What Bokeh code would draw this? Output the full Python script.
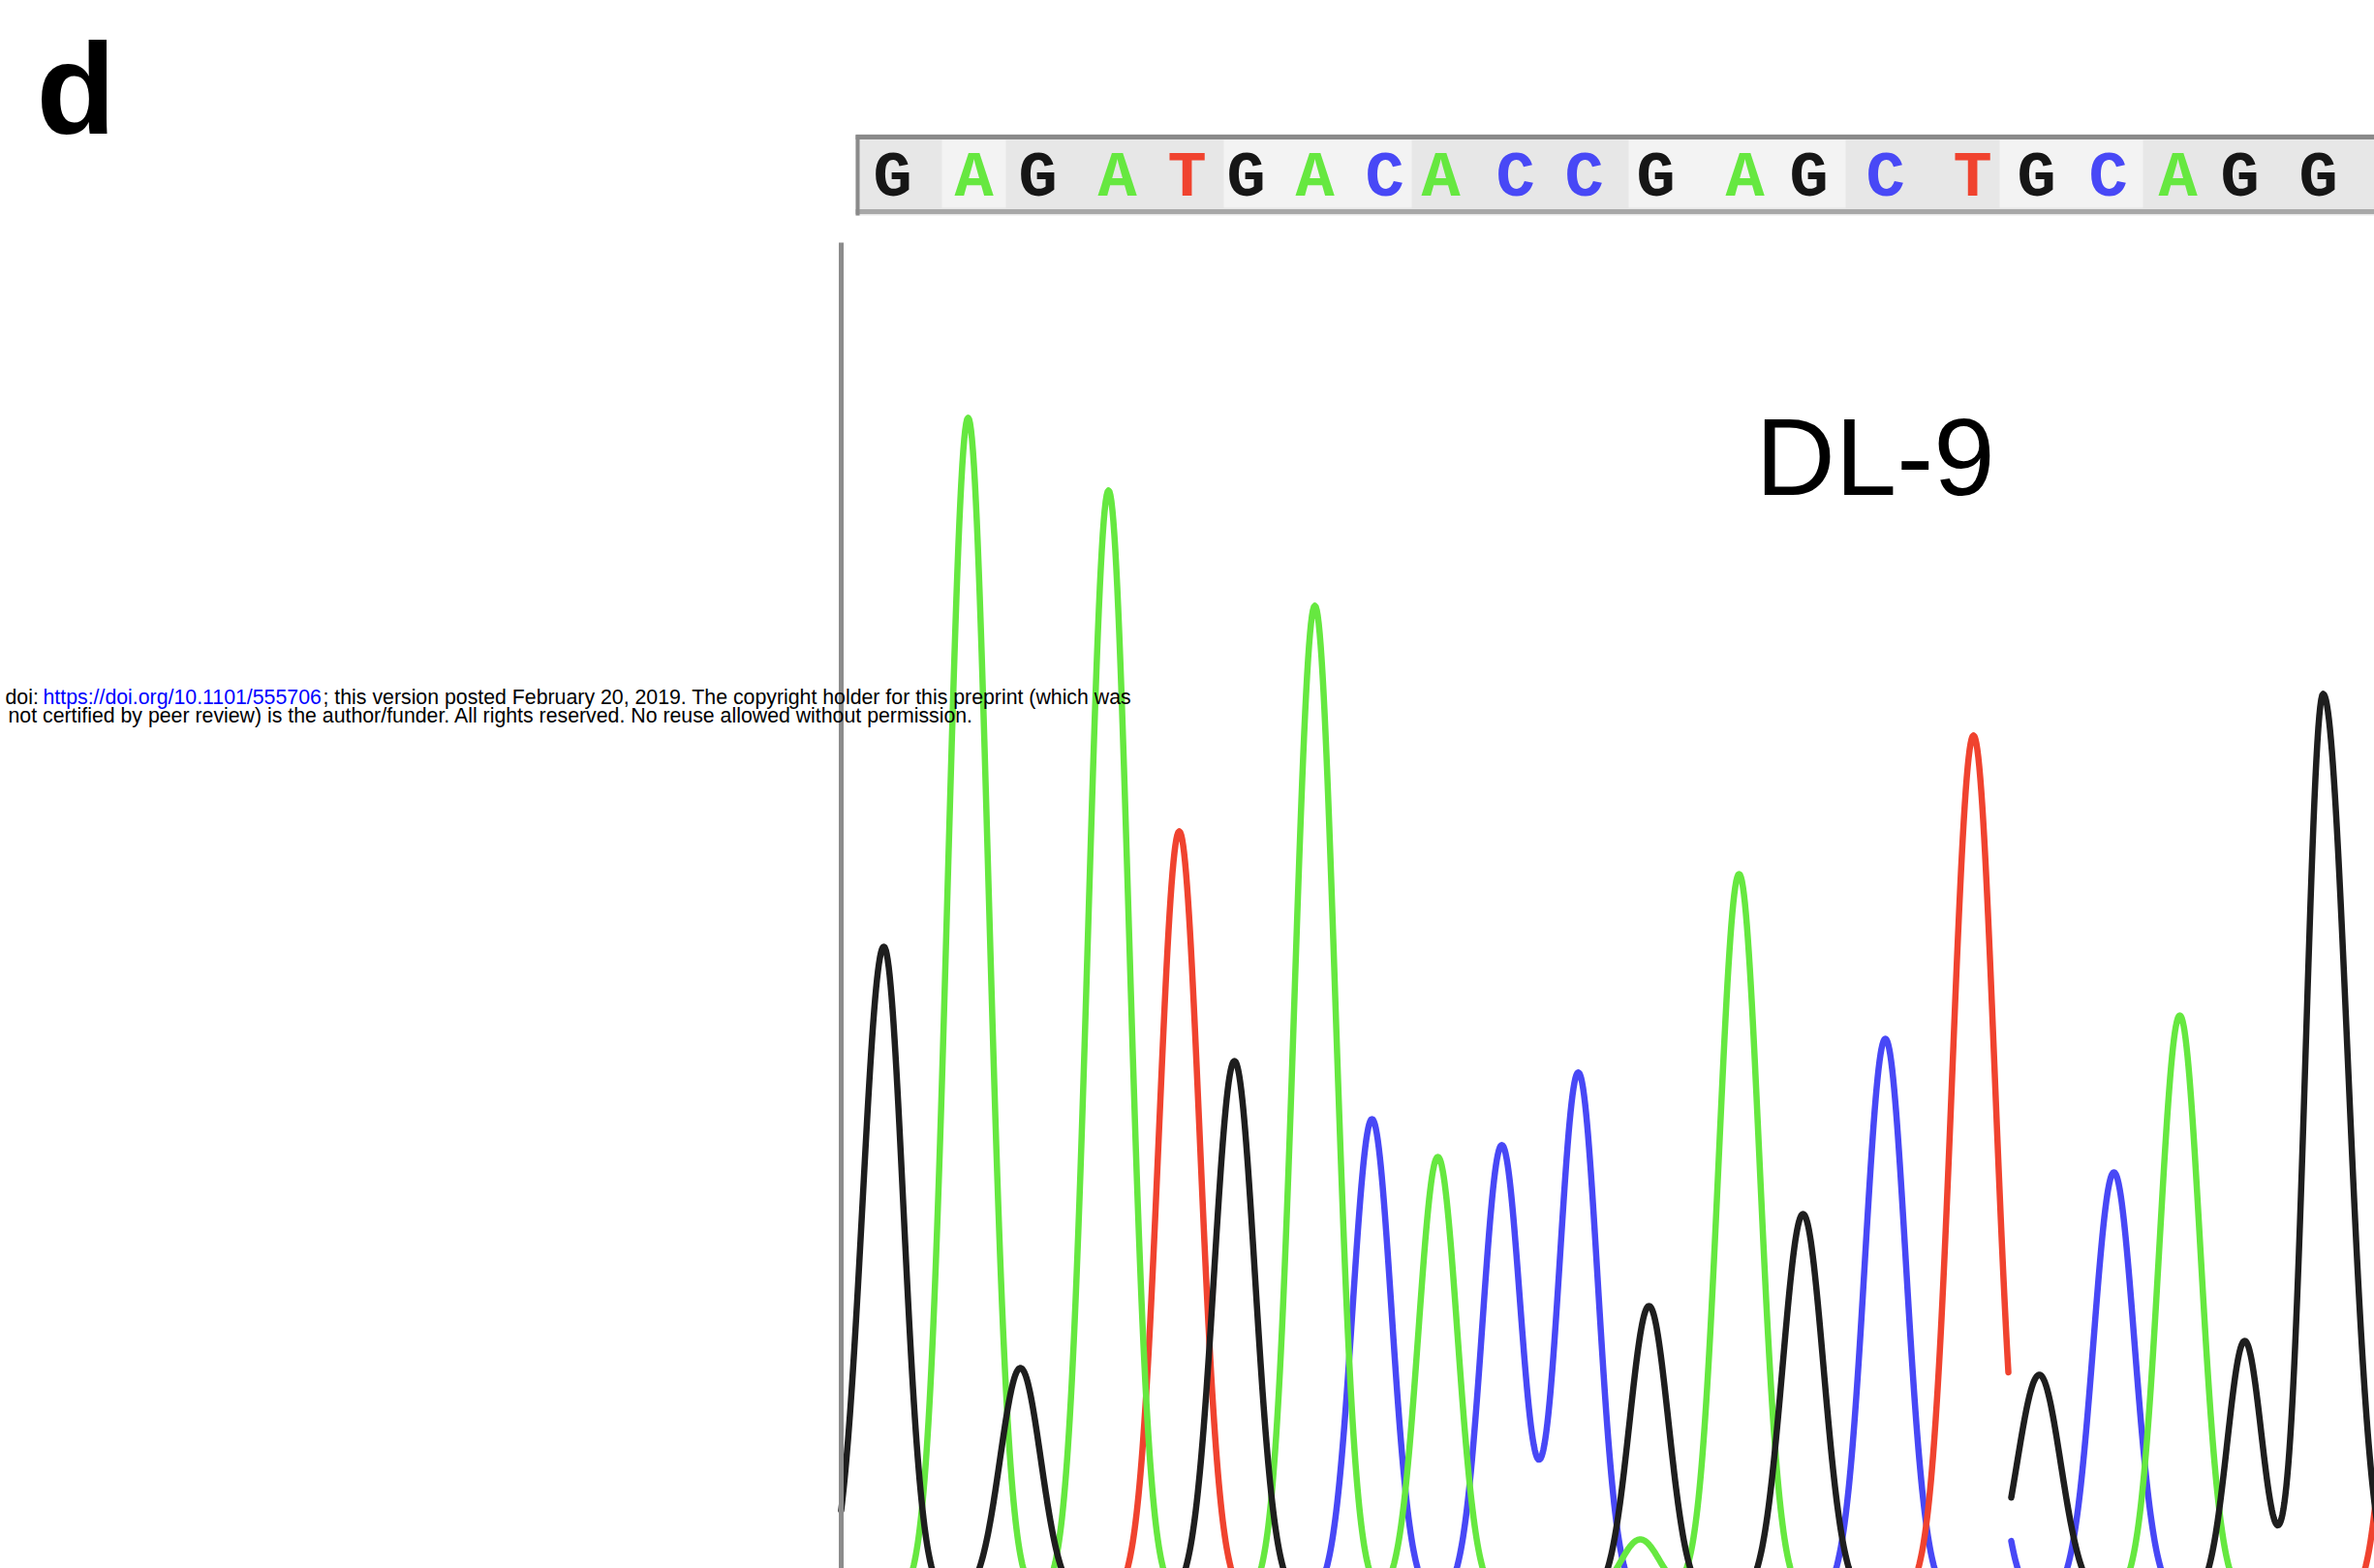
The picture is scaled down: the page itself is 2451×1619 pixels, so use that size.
import numpy as np
from bokeh.plotting import figure
from bokeh.models import Range1d, ColumnDataSource
from bokeh.core.properties import value
from bokeh.embed import file_html
from bokeh.resources import INLINE

# ---------------- data (scan position, signal intensity) ----------------
# base calls shown in the sequence bar and their scan positions
bases = list("GAGATGACACCGAGCTGCAGG")
base_pos = [53, 137, 203, 285, 357, 418, 489, 561, 619, 696, 767,
            841, 933, 999, 1078, 1168, 1234, 1308, 1380, 1444, 1525]

# first read segment (before the splice): peak position, height, left/right width
g_black_pos = [44, 185, 406, 834, 993]
g_black_hgt = [673, 238, 555, 302, 397]
g_black_sgl = [22, 21, 21, 20, 21]
g_black_sgr = [20, 21, 21, 20, 21]

g_green_pos = [131, 276, 489, 616, 825, 927]
g_green_hgt = [1219, 1144, 1025, 456, 61, 748]
g_green_sgl = [21, 21, 21, 20, 21, 21]
g_green_sgr = [21, 21, 21, 20, 21, 21]

g_red_pos = [349, 1169]
g_red_hgt = [792, 891]
g_red_sgl = [21, 22]
g_red_sgr = [21, 22]

g_blue_pos = [548, 682, 761, 1078]
g_blue_hgt = [495, 468, 543, 578]
g_blue_sgl = [20, 20, 20, 21]
g_blue_sgr = [20, 20, 20, 21]

# second read segment (after the splice)
h_black_pos = [1237, 1449, 1530]
h_black_hgt = [231, 266, 934]
h_black_sgl = [23, 18, 18]
h_black_sgr = [22, 18, 25]

h_blue_pos = [1172, 1314]
h_blue_hgt = [300, 440]
h_blue_sgl = [20, 21]
h_blue_sgr = [20, 21]

h_green_pos = [1382]
h_green_hgt = [602]
h_green_sgl = [21]
h_green_sgr = [21]

h_red_pos = [1622]
h_red_hgt = [600]
h_red_sgl = [20]
h_red_sgr = [20]

seg1 = (0, 1205)
seg2 = (1208, 1590)

# ---------------- styles ----------------
C_BLACK = "#1e1e1e"
C_GREEN = "#66e840"
C_RED = "#f0432f"
C_BLUE = "#4848f6"
base_colors = {"G": "#161616", "A": C_GREEN, "T": C_RED, "C": C_BLUE}

p = figure(width=2451, height=1619,
           x_range=Range1d(-868, 1583), y_range=Range1d(31, 1650),
           output_backend="svg", toolbar_location=None,
           x_axis_type=None, y_axis_type=None, min_border=0)
p.grid.visible = False
p.outline_line_color = None
p.background_fill_color = "white"
p.border_fill_color = "white"


def trace(xs, pos, hgt, sgl, sgr):
    y = np.zeros_like(xs, dtype=float)
    for c, h, sl, sr in zip(pos, hgt, sgl, sgr):
        s = np.where(xs < c, sl, sr)
        y += h * np.exp(-((xs - c) ** 2) / (2.0 * s * s))
    return y


LW = 6.5
xs1 = np.arange(seg1[0], seg1[1] + 0.5, 1.0)
xs2 = np.arange(seg2[0], seg2[1] + 0.5, 1.0)

for xs, pos, hgt, sgl, sgr, col in [
    (xs1, g_blue_pos, g_blue_hgt, g_blue_sgl, g_blue_sgr, C_BLUE),
    (xs1, g_red_pos, g_red_hgt, g_red_sgl, g_red_sgr, C_RED),
    (xs1, g_green_pos, g_green_hgt, g_green_sgl, g_green_sgr, C_GREEN),
    (xs1, g_black_pos, g_black_hgt, g_black_sgl, g_black_sgr, C_BLACK),
    (xs2, h_red_pos, h_red_hgt, h_red_sgl, h_red_sgr, C_RED),
    (xs2, h_blue_pos, h_blue_hgt, h_blue_sgl, h_blue_sgr, C_BLUE),
    (xs2, h_green_pos, h_green_hgt, h_green_sgl, h_green_sgr, C_GREEN),
    (xs2, h_black_pos, h_black_hgt, h_black_sgl, h_black_sgr, C_BLACK),
]:
    p.line(xs, trace(xs, pos, hgt, sgl, sgr), line_color=col, line_width=LW,
           line_join="round", line_cap="round")

# vertical axis line of the trace panel
p.segment(x0=[0], y0=[1400], x1=[0], y1=[0], line_color="#8c8c8c", line_width=5)

# ---------------- sequence bar ----------------
bar_top, bar_bot = 1512, 1428
p.quad(left=[15], right=[1600], top=[bar_top], bottom=[bar_bot],
       fill_color="#e7e7e7", line_color=None)
light_bands_l = [104, 395, 813, 1196]
light_bands_r = [170, 589, 1037, 1344]
p.quad(left=light_bands_l, right=light_bands_r, top=[bar_top - 6] * 4,
       bottom=[bar_bot + 8] * 4, fill_color="#f3f3f3", line_color=None)
p.segment(x0=[15], y0=[1509], x1=[1600], y1=[1509], line_color="#8a8a8a", line_width=5)
p.segment(x0=[15], y0=[1432], x1=[1600], y1=[1432], line_color="#a8a8a8", line_width=5)
p.segment(x0=[17], y0=[1511], x1=[17], y1=[1428], line_color="#8a8a8a", line_width=4)

seq_src = ColumnDataSource(dict(x=base_pos, y=[1467] * len(bases), t=bases,
                                c=[base_colors[b] for b in bases]))
p.text(x="x", y="y", text="t", text_color="c", source=seq_src,
       text_font=value("Liberation Mono"), text_font_style="bold",
       text_font_size="67px", text_align="center", text_baseline="middle")

# ---------------- labels ----------------
p.text(x=[-831], y=[1559], text=["d"], text_font=value("Liberation Sans"),
       text_font_style="bold", text_font_size="134px", text_color="black",
       text_baseline="alphabetic", text_align="left")
p.text(x=[944], y=[1179], text=["DL-9"], text_font=value("Liberation Sans"),
       text_font_size="114px", text_color="black",
       text_baseline="alphabetic", text_align="left")

doi_font = "21.3px"
p.text(x=[-863, -824, -535], y=[931, 931, 931],
       text=["doi:", "https://doi.org/10.1101/555706",
             "; this version posted February 20, 2019. The copyright holder for this preprint (which was"],
       text_color=["black", "#0000ff", "black"],
       text_font=value("Liberation Sans"), text_font_size=doi_font,
       text_baseline="alphabetic", text_align="left")
p.text(x=[-860], y=[912],
       text=["not certified by peer review) is the author/funder. All rights reserved. No reuse allowed without permission."],
       text_color="black", text_font=value("Liberation Sans"), text_font_size=doi_font,
       text_baseline="alphabetic", text_align="left")

open("out.html", "w").write(file_html(p, INLINE))
